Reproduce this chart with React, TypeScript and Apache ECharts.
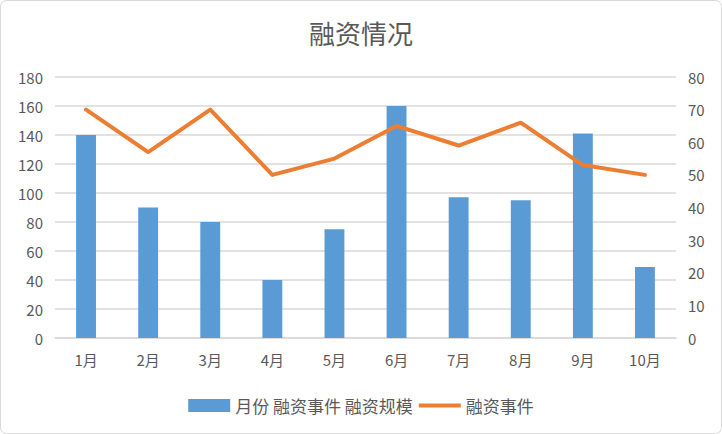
import React, { useEffect, useRef } from "react";
import * as echarts from "echarts";

const categories = ["1月", "2月", "3月", "4月", "5月", "6月", "7月", "8月", "9月", "10月"];
const scaleValues = [140, 90, 80, 40, 75, 160, 97, 95, 141, 49];
const eventValues = [70, 57, 70, 50, 55, 65, 59, 66, 53, 50];
const barName = "月份 融资事件 融资规模";
const lineName = "融资事件";
const FONT = "'Noto Sans CJK SC', 'Noto Sans', sans-serif";

export default function App() {
  const ref = useRef<HTMLDivElement>(null);
  useEffect(() => {
    document.body.style.margin = "0";
    const chart = echarts.init(ref.current!, undefined, { renderer: "svg" });
    chart.setOption({
      animation: false,
      backgroundColor: "#ffffff",
      textStyle: { fontFamily: FONT },
      title: {
        text: "融资情况",
        left: "center",
        top: 14,
        textStyle: { fontSize: 26, fontWeight: "normal", color: "#595959", fontFamily: FONT },
      },
      graphic: [
        {
          type: "rect",
          shape: { x: 0.5, y: 0.5, width: 721, height: 433, r: 6 },
          style: { fill: "none", stroke: "#d9d9d9", lineWidth: 1 },
          silent: true,
        },
      ],
      legend: {
        top: 392,
        left: "center",
        itemGap: 6,
        itemWidth: 42,
        itemHeight: 13,
        textStyle: { fontSize: 17, color: "#595959", fontFamily: FONT },
        data: [
          { name: barName, icon: "rect" },
          { name: lineName, icon: "path://M0,0h40v4h-40z" },
        ],
      },
      grid: { left: 55, right: 46, top: 77, bottom: 96, containLabel: false },
      xAxis: {
        type: "category",
        data: categories,
        axisLine: { lineStyle: { color: "#d9d9d9", width: 1.5 } },
        axisTick: { show: false },
        axisLabel: { color: "#595959", fontSize: 15, margin: 14, fontFamily: FONT },
      },
      yAxis: [
        {
          type: "value",
          min: 0,
          max: 180,
          interval: 20,
          axisLine: { show: false },
          axisTick: { show: false },
          axisLabel: { color: "#595959", fontSize: 15, margin: 12, fontFamily: FONT },
          splitLine: { lineStyle: { color: "#d9d9d9", width: 1.5 } },
        },
        {
          type: "value",
          min: 0,
          max: 80,
          interval: 10,
          position: "right",
          axisLine: { show: false },
          axisTick: { show: false },
          axisLabel: { color: "#595959", fontSize: 15, margin: 12, fontFamily: FONT },
          splitLine: { show: false },
        },
      ],
      series: [
        {
          name: barName,
          type: "bar",
          data: scaleValues,
          barWidth: "32%",
          itemStyle: { color: "#5b9bd5" },
          yAxisIndex: 0,
        },
        {
          name: lineName,
          type: "line",
          data: eventValues,
          yAxisIndex: 1,
          symbol: "none",
          lineStyle: { color: "#ed7d31", width: 4, cap: "round", join: "round" },
          itemStyle: { color: "#ed7d31" },
        },
      ],
    });
    return () => chart.dispose();
  }, []);
  return <div ref={ref} style={{ position: "absolute", left: 0, top: 0, width: 722, height: 434 }} />;
}
